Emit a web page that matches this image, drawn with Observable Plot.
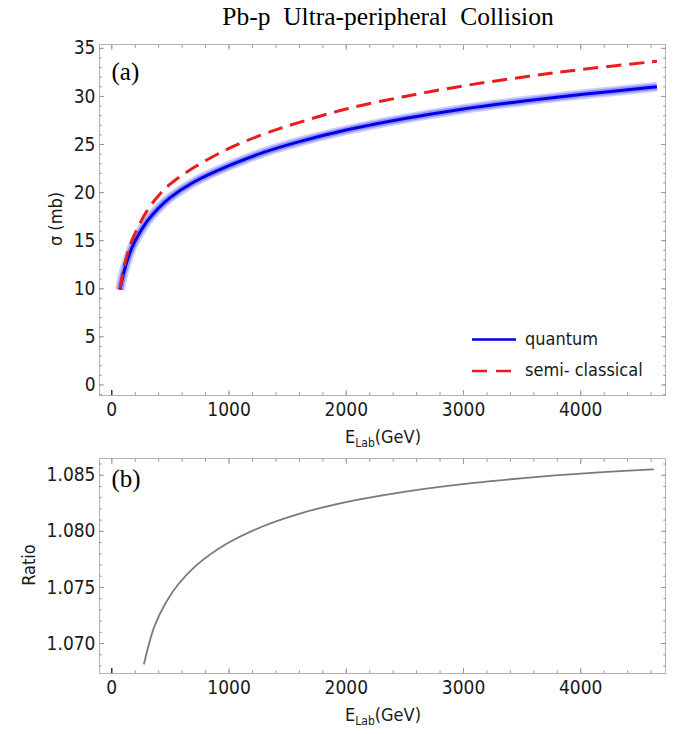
<!DOCTYPE html>
<html>
<head>
<meta charset="utf-8">
<script src="https://cdn.jsdelivr.net/npm/d3@7"></script>
<script src="https://cdn.jsdelivr.net/npm/@observablehq/plot@0.6"></script>
<style>
  html, body { margin: 0; padding: 0; background: #fff; }
  #wrap { position: relative; width: 685px; height: 734px; overflow: hidden; font-family: "DejaVu Sans Condensed", "DejaVu Sans", sans-serif; color: #1a1a1a; }
  .abs { position: absolute; white-space: pre; }
  #title { left: 105px; width: 566px; top: 2px; line-height: 30px; text-align: center; font-family: "Liberation Serif", "Times New Roman", serif; font-size: 25.5px; color: #000; }
  .xlab { font-size: 18px; line-height: 22px; text-align: center; width: 300px; }
  .xlab sub { font-size: 12px; vertical-align: -4px; line-height: 0; }
  .ylab { font-size: 18px; line-height: 22px; text-align: center; width: 200px; transform: rotate(-90deg); transform-origin: 100px 11px; }
  .leg { font-size: 18px; line-height: 22px; }
  svg.plot { position: absolute; left: 0; }
</style>
</head>
<body>
<div id="wrap">
  <div id="title" class="abs">Pb-p&nbsp;&nbsp;Ultra-peripheral&nbsp;&nbsp;Collision</div>
</div>
<script>
// ---------- data ----------
// Panel (a): cross sections (mb) vs lab energy (GeV)
const energy = [70, 100, 150, 200, 300, 400, 500, 700, 1000, 1300, 1600, 2000, 2500, 3000, 3500, 4000, 4650];
const sigmaQuantum = [9.9, 11.6, 13.6, 15.0, 17.0, 18.4, 19.5, 21.1, 22.8, 24.2, 25.3, 26.5, 27.7, 28.7, 29.5, 30.2, 31.0];
const sigmaSemiClassical = [10.0, 12.0, 14.3, 15.8, 18.1, 19.7, 20.9, 22.6, 24.6, 26.1, 27.3, 28.7, 30.0, 31.1, 32.0, 32.8, 33.65];
// Panel (b): ratio semi-classical / quantum
const energyRatio = [275, 361, 460, 574, 716, 972, 1285, 1569, 1800, 2080, 2521, 3089, 3657, 4226, 4618];
const ratioValues = [1.0682, 1.07146, 1.07364, 1.07537, 1.07692, 1.07884, 1.08043, 1.08147, 1.08213, 1.08278, 1.08357, 1.08432, 1.08487, 1.08529, 1.08552];
// axis ticks
const xMajorTicks = [0, 1000, 2000, 3000, 4000];
const xMinorTicks = d3.range(0, 4800, 200);
const sigmaMajorTicks = [0, 5, 10, 15, 20, 25, 30, 35];
const sigmaMinorTicks = d3.range(-1, 36, 1);
const ratioMajorTicks = [1.070, 1.075, 1.080, 1.085];
const ratioMinorTicks = d3.range(1068, 1087, 1).map(d => d / 1000);
// labels
const seriesLabels = ["quantum", "semi- classical"];

// ---------- build tables ----------
const crossData = energy.map((e, i) => ({E: e, q: sigmaQuantum[i], sc: sigmaSemiClassical[i]}));
const ratioData = energyRatio.map((e, i) => ({E: e, r: ratioValues[i]}));

const frameGray = "#b3b3b3";
const tickGray = "#9a9a9a";
const textCol = "#1a1a1a";
const xDomain = [-105, 4723];

function frameAxes(yMajor, yMinor, yFormat) {
  return [
    Plot.frame({stroke: frameGray}),
    // bottom
    Plot.axisX({anchor: "bottom", ticks: xMinorTicks, tickSize: -2.8, stroke: tickGray, fill: "none", label: null}),
    Plot.axisX({anchor: "bottom", ticks: xMajorTicks, tickSize: -5, stroke: tickGray, fill: "none", label: null}),
    Plot.axisX({anchor: "bottom", ticks: [0], tickSize: -5, stroke: "#000", fill: "none", label: null}),
    Plot.axisX({anchor: "bottom", ticks: xMajorTicks, tickSize: 0, tickPadding: 7, fill: textCol, label: null, tickFormat: d => String(d)}),
    // top
    Plot.axisX({anchor: "top", ticks: xMinorTicks, tickSize: -2.8, stroke: tickGray, fill: "none", label: null}),
    Plot.axisX({anchor: "top", ticks: xMajorTicks, tickSize: -5, stroke: tickGray, fill: "none", label: null}),
    // left
    Plot.axisY({anchor: "left", ticks: yMinor, tickSize: -2.8, stroke: tickGray, fill: "none", label: null}),
    Plot.axisY({anchor: "left", ticks: yMajor, tickSize: -5, stroke: tickGray, fill: "none", label: null}),
    Plot.axisY({anchor: "left", ticks: yMajor, tickSize: 0, tickPadding: 4, fill: textCol, label: null, tickFormat: yFormat}),
    // right
    Plot.axisY({anchor: "right", ticks: yMinor, tickSize: -2.8, stroke: tickGray, fill: "none", label: null}),
    Plot.axisY({anchor: "right", ticks: yMajor, tickSize: -5, stroke: tickGray, fill: "none", label: null})
  ];
}

const fontStyle = {fontFamily: '"DejaVu Sans Condensed", "DejaVu Sans", sans-serif', fontSize: "19px", background: "transparent", overflow: "visible"};

const plotA = Plot.plot({
  width: 685, height: 460,
  marginLeft: 99, marginRight: 20, marginTop: 44, marginBottom: 65,
  style: fontStyle,
  x: {domain: xDomain, axis: null, label: null},
  y: {domain: [-1.1, 35.4], axis: null, label: null},
  marks: [
    Plot.line(crossData, {x: "E", y: "q", stroke: "#6060ff", strokeOpacity: 0.3, strokeWidth: 10, strokeLinecap: "butt", curve: "catmull-rom"}),
    Plot.line(crossData, {x: "E", y: "q", stroke: "#3a3aff", strokeOpacity: 0.4, strokeWidth: 6.5, strokeLinecap: "butt", curve: "catmull-rom"}),
    Plot.line(crossData, {x: "E", y: "q", stroke: "#0000e6", strokeWidth: 3, strokeLinecap: "butt", curve: "catmull-rom"}),
    Plot.line(crossData, {x: "E", y: "sc", stroke: "#ea1c1c", strokeWidth: 3, strokeDasharray: "15,8", strokeLinecap: "butt", curve: "catmull-rom"}),
    Plot.text(["(a)"], {frameAnchor: "top-left", textAnchor: "start", lineAnchor: "top", dx: 12, dy: 18, fontFamily: '"Liberation Serif", serif', fontSize: 25, fill: "#000"}),
    ...frameAxes(sigmaMajorTicks, sigmaMinorTicks, d => String(d))
  ]
});
plotA.classList.add("plot");
plotA.style.top = "0px";

const plotB = Plot.plot({
  width: 685, height: 294,
  marginLeft: 99, marginRight: 20, marginTop: 18, marginBottom: 61,
  style: fontStyle,
  x: {domain: xDomain, axis: null, label: null},
  y: {domain: [1.06733, 1.08649], axis: null, label: null},
  marks: [
    Plot.line(ratioData, {x: "E", y: "r", stroke: "#7a7a7a", strokeWidth: 1.8, curve: "catmull-rom"}),
    Plot.text(["(b)"], {frameAnchor: "top-left", textAnchor: "start", lineAnchor: "top", dx: 12, dy: 11, fontFamily: '"Liberation Serif", serif', fontSize: 25, fill: "#000"}),
    ...frameAxes(ratioMajorTicks, ratioMinorTicks, d3.format(".3f"))
  ]
});
plotB.classList.add("plot");
plotB.style.top = "440px";

const wrap = document.getElementById("wrap");
wrap.appendChild(plotA);
wrap.appendChild(plotB);

function addDiv(cls, html, style) {
  const d = document.createElement("div");
  d.className = "abs " + cls;
  d.innerHTML = html;
  Object.assign(d.style, style);
  wrap.appendChild(d);
  return d;
}
// axis titles
addDiv("xlab", "E<sub>Lab</sub>(GeV)", {left: "233px", top: "426px"});
addDiv("xlab", "E<sub>Lab</sub>(GeV)", {left: "233px", top: "704px"});
addDiv("ylab", "σ (mb)", {left: "-44px", top: "208px"});
addDiv("ylab", "Ratio", {left: "-71px", top: "554px"});

// legend
const legSvg = `<svg width="50" height="50" style="position:absolute;left:471px;top:330px;overflow:visible">
  <line x1="1" x2="45" y1="9.5" y2="9.5" stroke="#0000e6" stroke-width="2.5"/>
  <line x1="1" x2="41" y1="41" y2="41" stroke="#ea1c1c" stroke-width="2.5" stroke-dasharray="15,9"/>
</svg>`;
wrap.insertAdjacentHTML("beforeend", legSvg);
addDiv("leg", seriesLabels[0], {left: "525px", top: "328px"});
addDiv("leg", seriesLabels[1], {left: "525px", top: "359px"});
</script>
</body>
</html>
